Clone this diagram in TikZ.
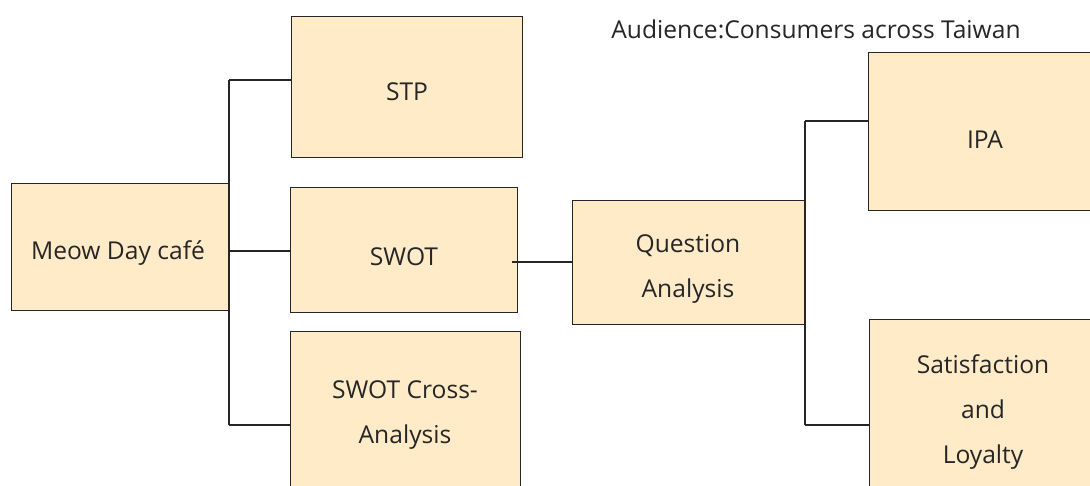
\documentclass[tikz,border=0pt]{standalone}
\usepackage{fontspec}
\setmainfont{Open Sans}
\definecolor{boxfill}{HTML}{FFEBC8}
\definecolor{ink}{HTML}{262626}
\begin{document}
\begin{tikzpicture}[x=1pt,y=-1pt,
  boxnode/.style={draw=ink,line width=1.4pt,fill=boxfill,inner sep=0pt,anchor=north west},
  lbl/.style={text=ink,font=\fontsize{24.6}{45}\selectfont,align=center,inner sep=0pt},
  wire/.style={draw=ink,line width=1.3pt}]
\useasboundingbox (0,0) rectangle (1090,486);
\begin{scope}
\clip (0,0) rectangle (1090,486);
\node[boxnode,minimum width=217pt,minimum height=127pt] (meow) at (11,183) {};
\node[boxnode,minimum width=231pt,minimum height=141pt] (stp) at (291,16) {};
\node[boxnode,minimum width=227pt,minimum height=125pt] (swot) at (290,187) {};
\node[boxnode,minimum width=230pt,minimum height=170pt] (cross) at (290,331) {};
\node[boxnode,minimum width=233pt,minimum height=124pt] (qa) at (572,200) {};
\node[boxnode,minimum width=240pt,minimum height=158pt] (ipa) at (868,52) {};
\node[boxnode,minimum width=240pt,minimum height=180pt] (sat) at (869,319) {};
\coordinate (jt) at (229,80);
\coordinate (jb) at (229,425);
\coordinate (jm) at (229,251);
\coordinate (kt) at (805,121);
\coordinate (kb) at (805,425);
\coordinate (sq) at (512,262);
\draw[wire] (jt) -- (jb);
\draw[wire] (jt) -- (jt -| stp.west);
\draw[wire] (jm) -- (jm -| swot.west);
\draw[wire] (jb) -- (jb -| cross.west);
\draw[wire] (sq) -- (sq -| qa.west);
\draw[wire] (kt) -- (kb);
\draw[wire] (kt) -- (kt -| ipa.west);
\draw[wire] (kb) -- (kb -| sat.west);
\end{scope}
\node[lbl] (tmeow) at (118,253) {Meow Day café};
\node[lbl] (tstp) at (407,92) {STP};
\node[lbl] (tswot) at (404,257) {SWOT};
\node[lbl] (tcross) at (405,415) {SWOT Cross-\\Analysis};
\node[lbl] (tqa) at (688,269) {Question\\Analysis};
\node[lbl] (tipa) at (985,140) {IPA};
\node[lbl] (tsat) at (983,412) {Satisfaction\\and\\Loyalty};
\node[lbl] (title) at (816,29) {Audience:Consumers across Taiwan};
\end{tikzpicture}
\end{document}
